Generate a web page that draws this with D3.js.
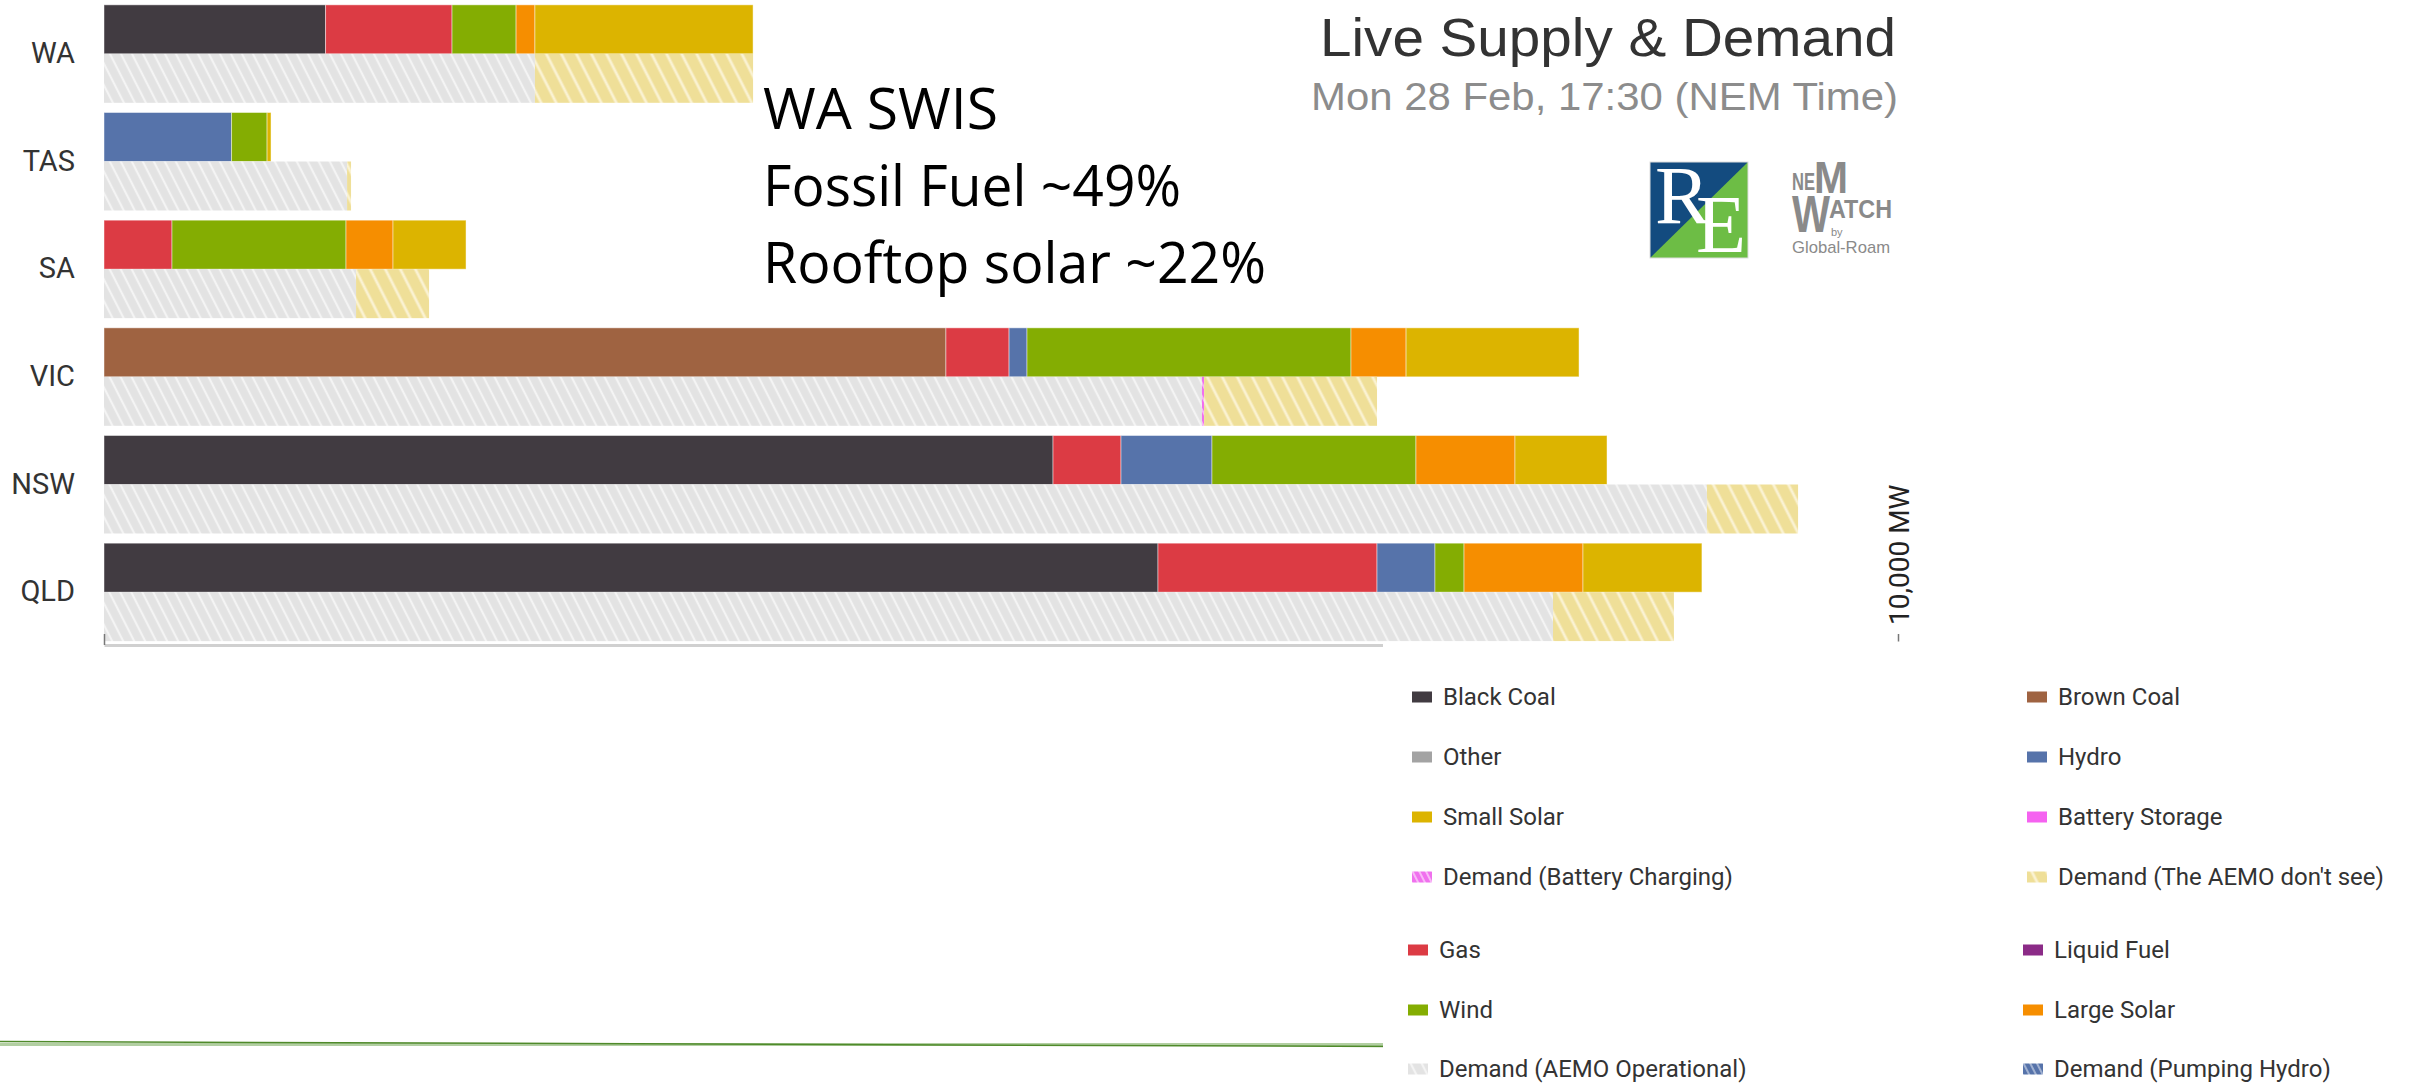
<!DOCTYPE html>
<html>
<head>
<meta charset="utf-8">
<script src="https://cdn.jsdelivr.net/npm/d3@7"></script>
<style>
   body { margin: 0; background: #fff; }
   svg { display: block; }
</style>
</head>
<body>
<script>
// regions, top to bottom
var regions = ["WA", "TAS", "SA", "VIC", "NSW", "QLD"];

// supply by fuel (MW), same order as regions
var blackCoal  = [1235,   0,    0,    0, 5290, 5875];
var brownCoal  = [   0,   0,    0, 4693,    0,    0];
var gas        = [ 705,   0,  379,  352,  379, 1221];
var hydro      = [   0, 711,    0,  100,  507,  323];
var wind       = [ 357, 198,  970, 1806, 1137,  162];
var largeSolar = [ 105,   0,  262,  307,  552,  663];
var smallSolar = [1216,  22,  407,  964,  513,  663];

// demand (MW)
var demandOperational     = [2402, 1355, 1405, 6120, 8935, 8077];
var demandBatteryCharging = [   0,    0,    0,   12,    0,    0];
var demandUnseen          = [1216,   22,  407,  964,  508,  674];

var axisTicks = [0, 10000];
var axisTickLabels = ["", "10,000 MW"];

var legendLeft = ["Black Coal", "Other", "Small Solar", "Demand (Battery Charging)",
                  "Gas", "Wind", "Demand (AEMO Operational)"];
var legendRight = ["Brown Coal", "Hydro", "Battery Storage", "Demand (The AEMO don't see)",
                   "Liquid Fuel", "Large Solar", "Demand (Pumping Hydro)"];

var noteLines = ["WA SWIS", "Fossil Fuel ~49%", "Rooftop solar ~22%"];
var title = "Live Supply & Demand";
var subtitle = "Mon 28 Feb, 17:30 (NEM Time)";

var fills = {
   "Black Coal": "#413b41",
   "Brown Coal": "#9f6341",
   "Other": "#a3a3a3",
   "Hydro": "#5673aa",
   "Small Solar": "#dcb400",
   "Battery Storage": "#f562f0",
   "Demand (Battery Charging)": "url(#hatchPink)",
   "Demand (The AEMO don't see)": "url(#hatchYellow)",
   "Gas": "#dc3b44",
   "Liquid Fuel": "#8b2b87",
   "Wind": "#84ad02",
   "Large Solar": "#f68e00",
   "Demand (AEMO Operational)": "url(#hatchGrey)",
   "Demand (Pumping Hydro)": "url(#hatchBlue)"
};

var supplyKeys = ["Black Coal", "Brown Coal", "Gas", "Hydro", "Wind", "Large Solar", "Small Solar"];
var demandKeys = ["Demand (AEMO Operational)", "Demand (Battery Charging)", "Demand (The AEMO don't see)"];

var supplyTable = regions.map(function(r, i) {
   return { region: r, "Black Coal": blackCoal[i], "Brown Coal": brownCoal[i], "Gas": gas[i],
            "Hydro": hydro[i], "Wind": wind[i], "Large Solar": largeSolar[i], "Small Solar": smallSolar[i] };
});
var demandTable = regions.map(function(r, i) {
   return { region: r, "Demand (AEMO Operational)": demandOperational[i],
            "Demand (Battery Charging)": demandBatteryCharging[i],
            "Demand (The AEMO don't see)": demandUnseen[i] };
});

var width = 2425;
var height = 1084;

var svg = d3.select("body")
            .append("svg")
               .attr("width", width)
               .attr("height", height);

var defs = svg.append("defs");

function hatch(id, bg, line, gap, lw) {
   var p = defs.append("pattern")
      .attr("id", id)
      .attr("patternUnits", "userSpaceOnUse")
      .attr("width", gap)
      .attr("height", gap)
      .attr("patternTransform", "rotate(-27)");
   p.append("rect").attr("width", gap).attr("height", gap).attr("fill", bg);
   p.append("line")
      .attr("x1", gap / 2).attr("y1", -1)
      .attr("x2", gap / 2).attr("y2", gap + 1)
      .attr("stroke", line)
      .attr("stroke-width", lw);
}
hatch("hatchGrey", "#e3e3e3", "#f4f4f4", 9.8, 2.2);
hatch("hatchYellow", "#efdf98", "#faf2d2", 13.4, 2.8);
hatch("hatchPink", "#f070ee", "#fbd0fa", 6, 1.5);
hatch("hatchBlue", "#5673aa", "#b9c6de", 6, 1.5);

var x = d3.scaleLinear()
         .domain([0, 10000])
         .range([104, 1898]);

var y = d3.scaleBand()
         .domain(regions)
         .range([0, 646])
         .paddingInner(0.09)
         .paddingOuter(0.045);

var half = y.bandwidth() / 2;

//supply bars on top half of each band
var supplyStack = d3.stack().keys(supplyKeys)(supplyTable);
svg.append("g").selectAll("g")
   .data(supplyStack)
   .enter().append("g")
      .attr("fill", function(s) { return fills[s.key]; })
   .selectAll("rect")
   .data(function(s) { return s.filter(function(d) { return d[1] > d[0]; }); })
   .enter().append("rect")
      .attr("x", function(d) { return x(d[0]); })
      .attr("width", function(d) { return x(d[1]) - x(d[0]); })
      .attr("y", function(d) { return y(d.data.region); })
      .attr("height", half)
      .attr("stroke", "#fff")
      .attr("stroke-opacity", 0.45)
      .attr("stroke-width", 1);

//demand bars underneath
var demandStack = d3.stack().keys(demandKeys)(demandTable);
svg.append("g").selectAll("g")
   .data(demandStack)
   .enter().append("g")
      .attr("fill", function(s) { return fills[s.key]; })
   .selectAll("rect")
   .data(function(s) { return s.filter(function(d) { return d[1] > d[0]; }); })
   .enter().append("rect")
      .attr("x", function(d) { return x(d[0]); })
      .attr("width", function(d) { return Math.max(x(d[1]) - x(d[0]), 1.5); })
      .attr("y", function(d) { return y(d.data.region) + half; })
      .attr("height", half);

//region labels
var yAxis = svg.append("g")
   .attr("transform", "translate(86,0)")
   .call(d3.axisLeft(y).tickSize(0).tickPadding(11));
yAxis.select(".domain").remove();
yAxis.selectAll("text")
   .style("font-family", "Roboto, sans-serif")
   .style("font-size", "29px")
   .attr("fill", "#333");

//x axis, ticks point up
var xAxis = svg.append("g")
   .attr("transform", "translate(0,645)")
   .call(d3.axisBottom(x)
      .tickValues(axisTicks)
      .tickSizeInner(-11)
      .tickSizeOuter(0)
      .tickFormat(function(d, i) { return axisTickLabels[i]; }));
xAxis.select(".domain")
   .attr("stroke", "#d0d0d0")
   .attr("stroke-width", 3);
xAxis.selectAll(".tick line")
   .attr("stroke", "#777")
   .attr("stroke-width", 1.5);
xAxis.selectAll(".tick text")
   .attr("transform", "rotate(-90)")
   .attr("x", 20)
   .attr("y", 0)
   .attr("dy", "0.36em")
   .style("text-anchor", "start")
   .style("font-family", "Roboto, sans-serif")
   .style("font-size", "28px")
   .attr("fill", "#222");

// green slide rule at the bottom
svg.append("line")
   .attr("x1", 0).attr("y1", 1044.5).attr("x2", 1400).attr("y2", 1044.5)
   .attr("stroke", "#b2cfa2").attr("stroke-width", 3);
svg.append("line")
   .attr("x1", 0).attr("y1", 1041.5).attr("x2", 1400).attr("y2", 1046.5)
   .attr("stroke", "#4f8a2a").attr("stroke-width", 1.5);

// white legend panel sits over the bottom right
svg.append("rect")
   .attr("x", 1383).attr("y", 641.5)
   .attr("width", width - 1383).attr("height", height - 641.5)
   .attr("fill", "#fff");

var rowY = [697, 757, 817, 877, 950, 1010, 1069];
function legendCol(items, sx, sx2) {
   var g = svg.append("g").selectAll("g")
      .data(items)
      .enter().append("g")
         .attr("transform", function(d, i) {
            return "translate(" + (i < 4 ? sx : sx2) + "," + rowY[i] + ")";
         });
   g.append("rect")
      .attr("x", 0).attr("y", -5.5)
      .attr("width", 20).attr("height", 11)
      .attr("fill", function(d) { return fills[d]; });
   g.append("text")
      .attr("x", 31)
      .attr("dy", "0.35em")
      .style("font-family", "Roboto, sans-serif")
      .style("font-size", "24px")
      .attr("fill", "#333")
      .text(function(d) { return d; });
}
legendCol(legendLeft, 1412, 1408);
legendCol(legendRight, 2027, 2023);

// title block
svg.append("text")
   .attr("x", 1896).attr("y", 56)
   .attr("text-anchor", "end")
   .attr("textLength", 576)
   .attr("lengthAdjust", "spacingAndGlyphs")
   .style("font-family", "'Liberation Sans', Arial, sans-serif")
   .style("font-size", "54px")
   .attr("fill", "#333")
   .text(title);
svg.append("text")
   .attr("x", 1898).attr("y", 110)
   .attr("text-anchor", "end")
   .attr("textLength", 587)
   .attr("lengthAdjust", "spacingAndGlyphs")
   .style("font-family", "'Liberation Sans', Arial, sans-serif")
   .style("font-size", "39px")
   .attr("fill", "#8c8c8c")
   .text(subtitle);

// annotation
var noteLen = [235, 418, 503];
svg.append("g").selectAll("text")
   .data(noteLines)
   .enter().append("text")
      .attr("x", 763)
      .attr("y", function(d, i) { return 129 + i * 77; })
      .attr("textLength", function(d, i) { return noteLen[i]; })
      .attr("lengthAdjust", "spacingAndGlyphs")
      .style("font-family", "'Open Sans', sans-serif")
      .style("font-size", "56px")
      .attr("fill", "#000")
      .text(function(d) { return d; });

// RE logo
var re = svg.append("g").attr("transform", "translate(1650,162)");
re.append("rect").attr("width", 98).attr("height", 96).attr("fill", "#6dbd45");
re.append("path").attr("d", "M0,0H98L0,96Z").attr("fill", "#134b7f");
re.append("rect").attr("width", 98).attr("height", 96)
   .attr("fill", "none").attr("stroke", "#ddd").attr("stroke-width", 1);
re.append("text").attr("x", 5).attr("y", 61)
   .style("font-family", "'Liberation Serif', serif")
   .style("font-size", "82px")
   .attr("fill", "#fff").text("R");
re.append("text").attr("x", 46).attr("y", 90)
   .style("font-family", "'Liberation Serif', serif")
   .style("font-size", "82px")
   .attr("fill", "#fff").text("E");

// NEM Watch logo
var nw = svg.append("g")
   .attr("fill", "#8a8a8a")
   .style("font-family", "'Liberation Sans', Arial, sans-serif")
   .style("font-weight", "bold");
nw.append("text").attr("x", 1792).attr("y", 190).attr("textLength", 23)
   .attr("lengthAdjust", "spacingAndGlyphs").style("font-size", "23px").text("NE");
nw.append("text").attr("x", 1814).attr("y", 193).attr("textLength", 34)
   .attr("lengthAdjust", "spacingAndGlyphs").style("font-size", "44px").text("M");
nw.append("text").attr("x", 1792).attr("y", 232).attr("textLength", 38)
   .attr("lengthAdjust", "spacingAndGlyphs").style("font-size", "52px").text("W");
nw.append("text").attr("x", 1829).attr("y", 218).attr("textLength", 63)
   .attr("lengthAdjust", "spacingAndGlyphs").style("font-size", "25px").text("ATCH");
nw.append("text").attr("x", 1831).attr("y", 236).style("font-size", "11px")
   .style("font-weight", "normal").text("by");
nw.append("text").attr("x", 1792).attr("y", 253).attr("textLength", 98)
   .attr("lengthAdjust", "spacingAndGlyphs").style("font-size", "17px")
   .style("font-weight", "normal").text("Global-Roam");
</script>
</body>
</html>
